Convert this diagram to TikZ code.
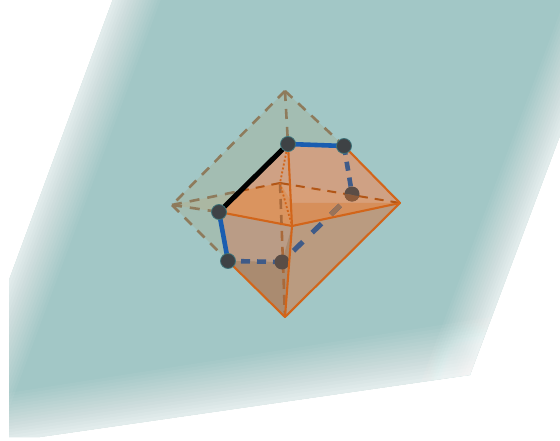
\documentclass[tikz,border=0pt]{standalone}
\usetikzlibrary{calc}
\definecolor{planec}{HTML}{A2C7C6}
\definecolor{greyc}{HTML}{A3BDB2}
\definecolor{tanc}{HTML}{ABB7A2}
\definecolor{facea}{HTML}{CFA184}
\definecolor{faceb}{HTML}{BA9B80}
\definecolor{facec}{HTML}{AA8B70}
\definecolor{faced}{HTML}{BA9C86}
\definecolor{eqa}{HTML}{DA945F}
\definecolor{eqb}{HTML}{D68F5B}
\definecolor{eqc}{HTML}{D89F78}
\definecolor{edgeo}{HTML}{D2651A}
\definecolor{edgeb}{HTML}{8E7B5C}
\definecolor{edgem}{HTML}{A9693A}
\definecolor{blues}{HTML}{1A5DB0}
\definecolor{blueh}{HTML}{3F5B88}
\definecolor{blued}{HTML}{9A7358}
\definecolor{ball}{HTML}{3E4245}
\definecolor{ballh}{HTML}{5A4D46}
\definecolor{balli}{HTML}{8A5A3A}
\definecolor{ballr}{HTML}{3F7379}
\tikzset{
  x=1pt,y=-1pt,
  solidedge/.style={draw=edgeo,line width=2.1pt,line cap=round},
  hiddenedge/.style={draw=edgeb,line width=2.6pt,dash pattern=on 10pt off 8pt},
  hiddenorange/.style={draw=edgeo!85!black,line width=2pt,dash pattern=on 9pt off 7pt},
  midedge/.style={draw=edgem,line width=2.6pt,dash pattern=on 10pt off 6pt},
  dottededge/.style={draw=edgeo,line width=1.8pt,dash pattern=on 2pt off 2pt},
  cutsolid/.style={draw=blues,line width=4.6pt},
  cuthidden/.style={draw=blueh,line width=4.6pt,dash pattern=on 9pt off 7pt},
  cutlong/.style={draw=blueh,line width=5pt,dash pattern=on 13pt off 13pt,dash phase=9.5pt},
  cutinner/.style={draw=blued,line width=5pt,dash pattern=on 13pt off 13pt,dash phase=9.5pt},
  cutblack/.style={draw=black,line width=5pt},
  dotv/.style={circle,fill=ball,draw=ballr,line width=.8pt,inner sep=0pt,minimum size=15pt},
  dothid/.style={circle,fill=ballh,inner sep=0pt,minimum size=15pt},
  dotin/.style={circle,fill=balli,inner sep=0pt,minimum size=15pt}
}
\begin{document}
\begin{tikzpicture}
\useasboundingbox (0,0) rectangle (560,441);
\fill[white] (0,0) rectangle (560,441);
\begin{scope}
\clip (113,-1) -- (9,280) -- (9,437) -- (40,437) -- (470,375) -- (561,133) -- (561,-1) -- cycle;
\fill[planec] (0,0) rectangle (560,441);
\foreach \i in {1,...,16}{
  \pgfmathsetmacro{\t}{1-(\i-1)/16}
  \pgfmathsetmacro{\a}{1/(22-\i+1)}
  \fill[white,opacity=\a] ({113+48*\t},-1) -- ({-110+48*\t},600) -- (-200,600) -- (-200,-1) -- cycle;
  \fill[white,opacity=\a] (-100,{457-47*\t}) -- (600,{356-56*\t}) -- (600,600) -- (-100,600) -- cycle;
  \fill[white,opacity=\a] ({611-46*\t},-1) -- ({385-46*\t},600) -- (800,600) -- (800,-1) -- cycle;
}
\end{scope}
% vertices of the octahedron and of the section
\coordinate (T) at (285,91);
\coordinate (L) at (172,205);
\coordinate (R) at (400,203);
\coordinate (B) at (285,317);
\coordinate (F) at (292,226);
\coordinate (K) at (280,183);
\coordinate (P1) at (288,144);
\coordinate (P2) at (344,146);
\coordinate (P3) at (352,194);
\coordinate (P4) at (282,262);
\coordinate (P5) at (228,261);
\coordinate (P6) at (219,212);
\coordinate (M) at (292,203);
\coordinate (X) at (240,191);
% upper part
\fill[greyc] (T) -- (L) -- (P5) -- (P6) -- (P1) -- (P2) -- cycle;
\fill[tanc] (L) -- (X) -- (P6) -- cycle;
% lower part
\fill[facea] (P1) -- (P2) -- (R) -- (F) -- cycle;
\fill[facea] (P6) -- (P1) -- (F) -- cycle;
\fill[faced] (P6) -- (F) -- (B) -- (P5) -- cycle;
\fill[facec] (P5) -- (P4) -- (F) -- (B) -- cycle;
\fill[faceb] (F) -- (R) -- (B) -- cycle;
\fill[eqc] (K) -- (R) -- (M) -- cycle;
\fill[eqa] (P6) -- (X) -- (K) -- (M) -- (F) -- cycle;
\fill[eqb] (M) -- (R) -- (F) -- cycle;
% hidden edges
\draw[hiddenedge] (T) -- (L);
\draw[hiddenedge] (T) -- (P2);
\draw[hiddenedge] (T) -- (P1);
\draw[hiddenedge] (L) -- (P5);
\draw[hiddenedge] (L) -- (P6);
\draw[hiddenedge] (L) -- (X);
\draw[hiddenorange] (X) -- (K);
\draw[hiddenorange] (K) -- (R);
\draw[midedge] (K) -- (B);
\draw[dottededge] (K) -- (F);
\draw[dottededge] (P1) -- (K);
% section: hidden sides
\draw[cuthidden] (P2) -- (P3);
\draw[cutlong] (P3) -- (P4);
\draw[cuthidden] (P4) -- (P5);
\node[dothid] (n3) at (P3) {};
\node[dothid] (n4) at (P4) {};
% the part of the section seen through the orange middle plane
\begin{scope}
\clip (K) -- (R) -- (F) -- cycle;
\draw[cutinner] (P3) -- (P4);
\node[dotin] (n3b) at (P3) {};
\end{scope}
% visible edges
\draw[solidedge] (P6) -- (F);
\draw[solidedge] (P1) -- (F);
\draw[solidedge] (P2) -- (R);
\draw[solidedge] (R) -- (F);
\draw[solidedge] (R) -- (B);
\draw[solidedge] (F) -- (B);
\draw[solidedge] (P5) -- (B);
% section: visible sides
\draw[cutsolid] (P1) -- (P2);
\draw[cutsolid] (P5) -- (P6);
\draw[cutblack] (P6) -- (P1);
% section points
\node[dotv] (n1) at (P1) {};
\node[dotv] (n2) at (P2) {};
\node[dotv] (n5) at (P5) {};
\node[dotv] (n6) at (P6) {};
\end{tikzpicture}
\end{document}
